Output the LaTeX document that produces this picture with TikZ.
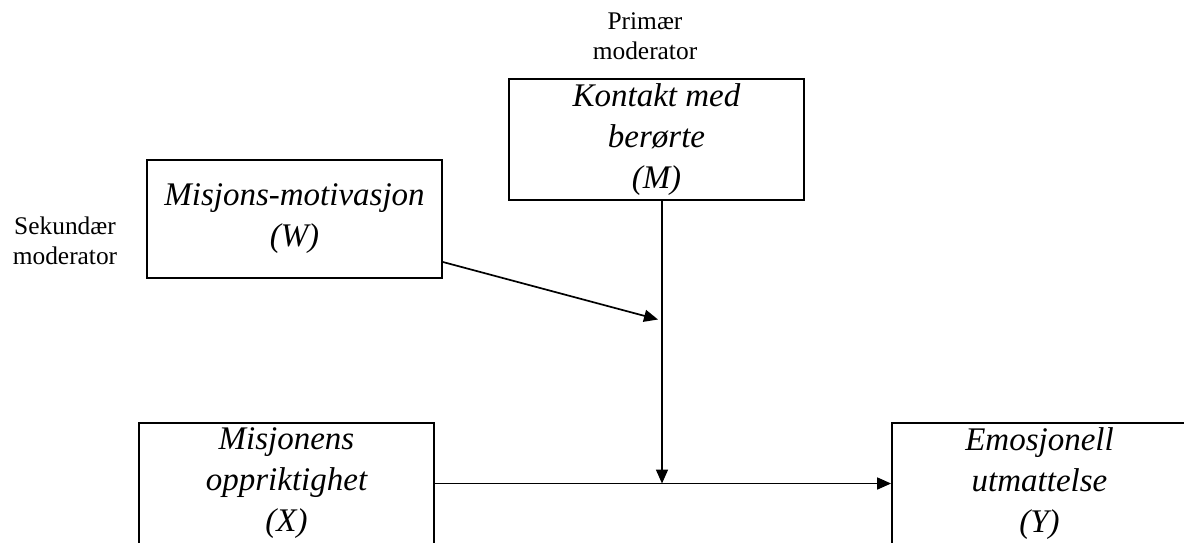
\documentclass[tikz,border=0pt]{standalone}
\usepackage{fontspec}
\setmainfont{Liberation Serif}
\usepackage{tikz}
\usetikzlibrary{positioning, calc, arrows.meta}

\tikzset{
  varbox/.style={draw, line width=0.9pt, align=center, inner sep=0pt,
    minimum width=147.5pt, minimum height=60.5pt,
    font=\fontsize{16.5}{20.5}\selectfont\itshape},
  modlabel/.style={align=center, inner sep=0pt,
    font=\fontsize{12.7}{14.8}\selectfont},
  effect/.style={line width=0.85pt, -{Triangle[length=7pt,width=6pt]}}
}

\begin{document}
\begin{tikzpicture}[x=0.5pt, y=-0.5pt]

%//frame, same size as the page
\useasboundingbox (0,0) rectangle (1184,542);
\clip (0,0) rectangle (1184,542);

%//moderators
\node [varbox] (M) at (656.5, 139.5) {Kontakt med\\ berørte\\ (M)};
\node [varbox, minimum height=59pt] (W) at (294.5, 219) {Misjons-motivasjon\\ (W)};

\node [modlabel] (primlab) at (645, 36) {Primær\\ moderator};
\node [modlabel] (seklab) at (65, 241) {Sekundær\\ moderator};

%//main path
\node [varbox] (X) at (286.5, 483.5) {Misjonens\\ oppriktighet\\ (X)};
\node [varbox] (Y) at (1039.5, 483.5) {Emosjonell\\ utmattelse\\ (Y)};

\coordinate (joint) at (662, 483.5);
\coordinate (wjoint) at (658, 319.5);

\draw [effect] (X.east) -- (Y.west);
\draw [effect] (M.south -| joint) -- (joint);
\draw [effect] ([yshift=-21.5pt]W.east) -- (wjoint);

\end{tikzpicture}
\end{document}
